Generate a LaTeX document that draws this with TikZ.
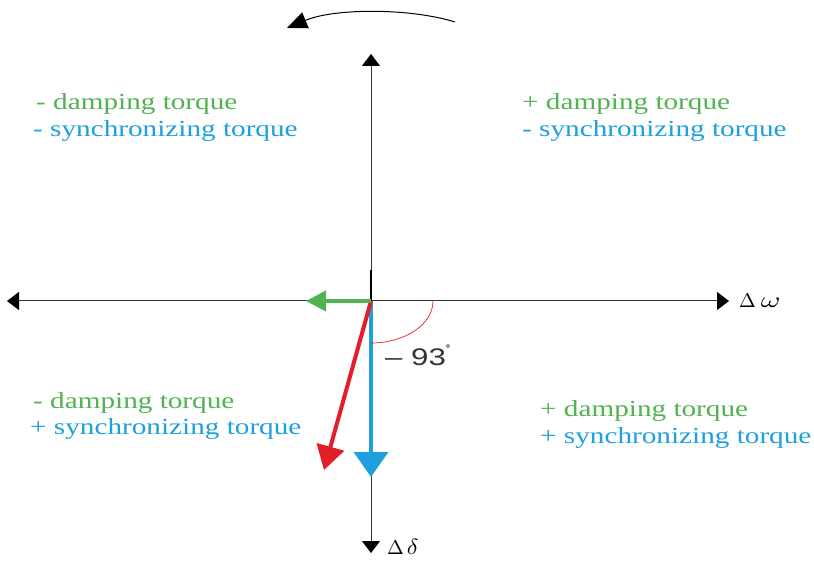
\documentclass[tikz,border=0pt]{standalone}
\usepackage{fontspec}
\setmainfont{Liberation Serif}
\newfontfamily\lsans{Liberation Sans}
\usetikzlibrary{arrows.meta}
\definecolor{tgreen}{RGB}{80,178,80}
\definecolor{tblue}{RGB}{30,160,222}
\definecolor{tred}{RGB}{228,30,40}
\newcommand{\wide}[1]{\scalebox{1.27}[1]{#1}}
\tikzset{
  axis/.style={draw=black!80, line width=1pt, -{Triangle[width=18pt,length=12pt,color=black]}},
  phasor/.style={line width=4pt},
  lbl/.style={anchor=base west, inner sep=0pt, font=\fontsize{23}{24}\selectfont},
}
\begin{document}
\begin{tikzpicture}[x=1pt,y=-1pt]
\useasboundingbox (0,0) rectangle (814,561);
\fill[white] (0,0) rectangle (814,561);
\coordinate (O) at (371,301);
\coordinate (top) at (371,54);
\coordinate (bot) at (371,553);
\coordinate (lft) at (7,301);
\coordinate (rgt) at (729,301);
\coordinate (stub) at (371,270);
\draw[axis] (O) -- (top);
\draw[axis] (O) -- (bot);
\draw[axis] (O) -- (lft);
\draw[axis] (O) -- (rgt);
\draw[line width=2pt] (O) -- (stub);
% rotation arrow
\coordinate (rs) at (455,22);
\coordinate (re) at (287,28);
\draw[line width=1pt, -{Triangle[width=17pt,length=20pt]}] (rs) .. controls (410,8) and (335,8) .. (re);
% phasors
\coordinate (gtip) at (306,301);
\coordinate (btip) at (371,477);
\coordinate (rtip) at (324,470);
\draw[tblue, phasor, -{Triangle[width=34pt,length=25pt]}] (O) -- (btip);
\draw[tred, phasor, -{Triangle[width=28pt,length=24pt]}] (O) -- (rtip);
\draw[tgreen, phasor, -{Triangle[width=20pt,length=20pt]}] (O) -- (gtip);
% angle arc
\draw[tred, line width=0.7pt] (433,301) arc[start angle=0, end angle=90, x radius=62, y radius=42];
\node[anchor=base west, inner sep=0pt, font=\lsans\fontsize{24}{24}\selectfont, text=black!80] (ang) at (385,366) {\scalebox{1.3}[1]{– 93}\raisebox{0.55em}{\fontsize{11}{11}\selectfont\textbf{°}}};
% axis labels
\node[anchor=west, inner sep=0pt] (dw) at (739,301) {\scalebox{2}{$\Delta$}\hspace{5pt}\scalebox{3}[2.2]{$\omega$}};
\node[anchor=west, inner sep=0pt] (dd) at (387,547) {\scalebox{2}{$\Delta$}\hspace{3pt}\scalebox{2.4}[2.2]{$\delta$}};
% quadrant texts
\node[lbl, text=tgreen] (q1a) at (36,110) {\wide{- damping torque}};
\node[lbl, text=tblue] (q1b) at (33,137) {\wide{- synchronizing torque}};
\node[lbl, text=tgreen] (q2a) at (522,110) {\wide{+ damping torque}};
\node[lbl, text=tblue] (q2b) at (522,137) {\wide{- synchronizing torque}};
\node[lbl, text=tgreen] (q3a) at (33,408) {\wide{- damping torque}};
\node[lbl, text=tblue] (q3b) at (30,434) {\wide{+ synchronizing torque}};
\node[lbl, text=tgreen] (q4a) at (540,416) {\wide{+ damping torque}};
\node[lbl, text=tblue] (q4b) at (540,443) {\wide{+ synchronizing torque}};
\end{tikzpicture}
\end{document}
